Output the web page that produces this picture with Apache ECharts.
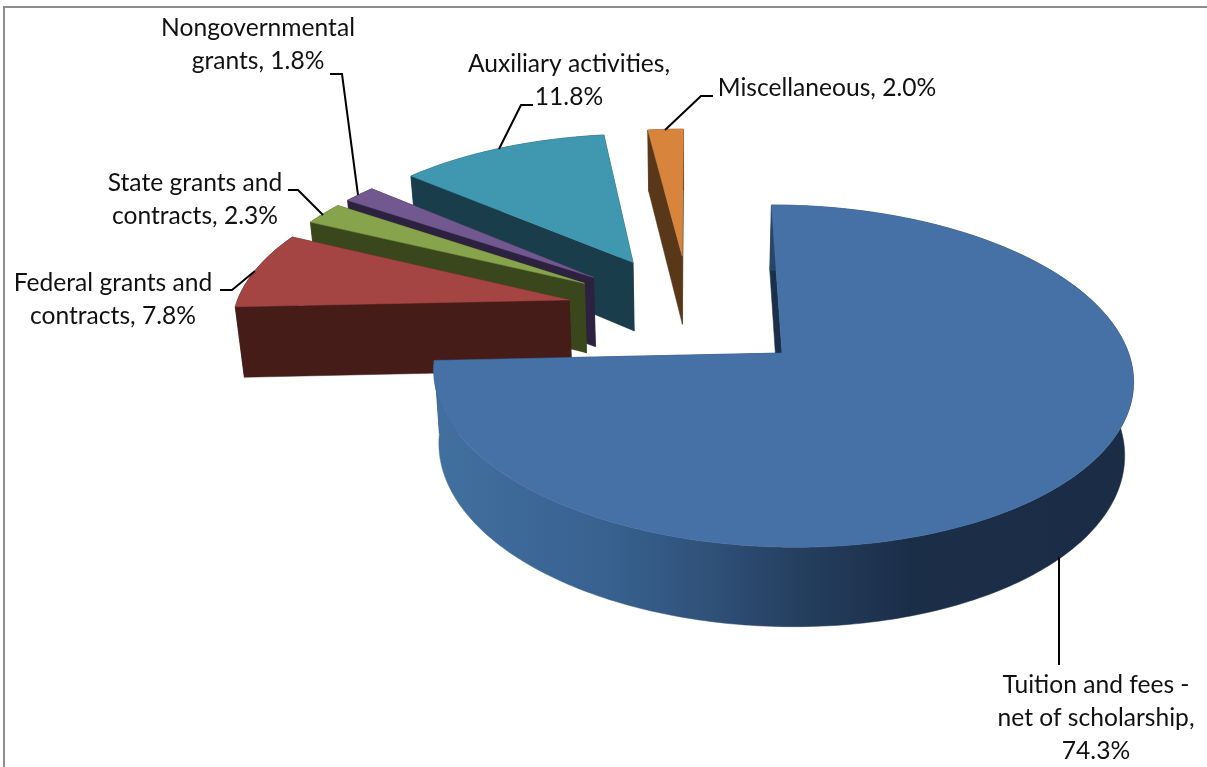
<!DOCTYPE html>
<html><head><meta charset="utf-8">
<style>html,body{margin:0;padding:0;background:#fff}#c{width:1207px;height:767px}</style>
<script src="https://cdn.jsdelivr.net/npm/echarts@6/dist/echarts.min.js"></script>
</head><body><div id="c"></div>
<script>
const categories = ['Tuition and fees -\nnet of scholarship','Federal grants and\ncontracts','State grants and\ncontracts','Nongovernmental\ngrants','Auxiliary activities','Miscellaneous'];
const shares = [74.3,7.8,2.3,1.8,11.8,2.0];
const separators = [',\n',', ',', ',', ',',\n',', '];

const topColors = ['#4671a7','#a54543','#87a44c','#71598f','#4097b0','#d8843d'];
const wallColors = ['#1b2e4a','#451c18','#3a471c','#2d2140','#1a3d4b','#59381a'];
const mainWallStops = [[0,'#41709f'],[.25,'#38618f'],[.4,'#2f5078'],[.52,'#253f60'],[.68,'#1b2e48'],[1,'#1b2c45']];
const labelBoxes = [[1096,718],[113,300],[195,200],[258,45],[569,81],[827,88]];
const leaders = [
 [[1059,557],[1059,665]],
 [[220,290],[232,290],[255,271]],
 [[288,190],[298,190],[323,215]],
 [[330,74],[342,74],[358,195]],
 [[533,105],[521,105],[499,149]],
 [[713,96],[701,96],[665,130]]
];
const view = {cx:782,cy:353,rx:346.5,ry:168,persp:.135,shear:12,explode:.37,taper:.02,taperCenter:690,wallBase:72.5,wallSlope:7};

function project(x,d,z){
  const k=1/(1+view.persp*d);
  let sx=view.cx+(x*view.rx-view.shear*d)*k;
  let sy=view.cy-d*view.ry*k;
  if(z){ sx=view.taperCenter+(sx-view.taperCenter)*(1-view.taper); sy+=view.wallBase-view.wallSlope*d; }
  return [sx,sy];
}
const total=shares.reduce((a,b)=>a+b,0);
const rad=v=>v/total*2*Math.PI;
const starts=shares.map((_,i)=>rad(shares.slice(0,i).reduce((a,b)=>a+b,0)));
const mainMid=starts[0]+rad(shares[0])/2;
const hubX=-view.explode*Math.sin(mainMid), hubD=-view.explode*Math.cos(mainMid);

function renderItem(params,api){
  const i=params.dataIndex, v=api.value(0);
  const a0=starts[i], a1=a0+rad(v), mid=(a0+a1)/2;
  const ax=hubX+view.explode*Math.sin(mid), ad=hubD+view.explode*Math.cos(mid);
  const n=Math.max(6,Math.round((a1-a0)*60));
  const rimT=[],rimB=[];
  for(let j=0;j<=n;j++){
    const t=a0+(a1-a0)*j/n, x=ax+Math.sin(t), d=ad+Math.cos(t);
    rimT.push(project(x,d,0)); rimB.push(project(x,d,1));
  }
  const apT=project(ax,ad,0), apB=project(ax,ad,1);
  const base=Math.round(500-ad*400);
  const poly=(pts,fill,z)=>({type:'polygon',shape:{points:pts},z2:base+z,style:{fill,stroke:fill,lineWidth:.5}});
  const wallFill=i===0?{type:'linear',x:0,y:0,x2:1,y2:0,colorStops:mainWallStops.map(s=>({offset:s[0],color:s[1]}))}:wallColors[i];
  const children=[
    poly([apT,rimT[0],rimB[0],apB],wallColors[i],0),
    poly([apT,rimT[n],rimB[n],apB],wallColors[i],0),
    poly(rimT.concat(rimB.slice().reverse()),wallFill,1),
    poly([apT].concat(rimT),topColors[i],2),
    {type:'polyline',shape:{points:leaders[i]},z2:1000,style:{fill:null,stroke:'#000',lineWidth:2}},
    {type:'text',z2:1001,style:{text:categories[i]+separators[i]+v.toFixed(1)+'%',x:labelBoxes[i][0],y:labelBoxes[i][1],
      align:'center',verticalAlign:'middle',fill:'#111',font:'24.6px Lato',lineHeight:33}}
  ];
  return {type:'group',children};
}
const chart=echarts.init(document.getElementById('c'),null,{renderer:'canvas'});
chart.setOption({
  animation:false,
  backgroundColor:'#fff',
  graphic:[{type:'rect',shape:{x:4,y:7,width:1300,height:900},style:{fill:null,stroke:'#8c8c8c',lineWidth:2},silent:true}],
  series:[{type:'custom',coordinateSystem:'none',clip:false,renderItem,data:shares.map(s=>[s]),encode:{value:0}}]
});
</script></body></html>
